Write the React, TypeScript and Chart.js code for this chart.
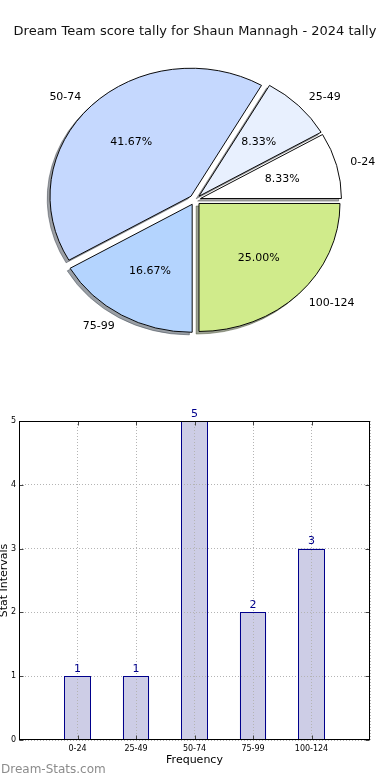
import React, { useEffect, useRef } from 'react';
import { Chart, registerables } from 'chart.js';

Chart.register(...registerables);

const FONT = "'DejaVu Sans', sans-serif";

const titleText = 'Dream Team score tally for Shaun Mannagh - 2024 tally';
const categories = ['0-24', '25-49', '50-74', '75-99', '100-124'];
const counts = [1, 1, 5, 2, 3];
const sliceColors = ['#ffffff', '#e8f0fe', '#c5d8fe', '#b4d4fe', '#d0eb8b'];
const yTicks = [0, 1, 2, 3, 4, 5];
const xAxisTitle = 'Frequency';
const yAxisTitle = 'Stat Intervals';
const watermark = 'Dream-Stats.com';

const PIE_R = 141;
const EXPLODE = 0.04;
const Y_RATIO = 128 / PIE_R;
const SHADOW = 0.02;

function shadowColor(hex: string): string {
  const n = parseInt(hex.slice(1), 16);
  const r = Math.round(((n >> 16) & 255) * 0.3);
  const g = Math.round(((n >> 8) & 255) * 0.3);
  const b = Math.round((n & 255) * 0.3);
  return `rgba(${r},${g},${b},0.5)`;
}

const pieDrawPlugin = {
  id: 'pieDraw',
  beforeDatasetDraw(chart: any, args: any) {
    const meta = chart.getDatasetMeta(args.index);
    const arcs = meta.data as any[];
    if (!arcs.length) return false;
    const ctx = chart.ctx as CanvasRenderingContext2D;
    const cx = arcs[0].x;
    const cy = arcs[0].y;
    const colors = chart.data.datasets[args.index].backgroundColor as string[];
    ctx.save();
    ctx.translate(cx, cy);
    ctx.scale(1, Y_RATIO);
    ctx.translate(-cx, -cy);
    arcs.forEach((a, i) => {
      const mid = (a.startAngle + a.endAngle) / 2;
      const d = EXPLODE * a.outerRadius;
      const sx = a.x + Math.cos(mid) * d - SHADOW * a.outerRadius;
      const sy = a.y + Math.sin(mid) * d + SHADOW * a.outerRadius;
      ctx.beginPath();
      ctx.moveTo(sx, sy);
      ctx.arc(sx, sy, a.outerRadius, a.startAngle, a.endAngle);
      ctx.closePath();
      ctx.fillStyle = shadowColor(colors[i]);
      ctx.strokeStyle = shadowColor(colors[i]);
      ctx.lineWidth = 1;
      ctx.fill();
      ctx.stroke();
    });
    arcs.forEach((a) => {
      const mid = (a.startAngle + a.endAngle) / 2;
      const d = EXPLODE * a.outerRadius;
      ctx.save();
      ctx.translate(Math.cos(mid) * d, Math.sin(mid) * d);
      a.draw(ctx, chart.chartArea);
      ctx.restore();
    });
    ctx.restore();
    return false;
  },
  afterDatasetsDraw(chart: any) {
    const meta = chart.getDatasetMeta(0);
    const arcs = meta.data as any[];
    const ctx = chart.ctx as CanvasRenderingContext2D;
    const labels = chart.data.labels as string[];
    const values = chart.data.datasets[0].data as number[];
    const total = values.reduce((s, v) => s + v, 0);
    ctx.save();
    ctx.fillStyle = '#000';
    ctx.font = `11px ${FONT}`;
    ctx.textBaseline = 'middle';
    arcs.forEach((a, i) => {
      const mid = (a.startAngle + a.endAngle) / 2;
      const ux = Math.cos(mid);
      const uy = Math.sin(mid);
      const R = a.outerRadius;
      const wx = a.x + EXPLODE * R * ux;
      const wy = a.y + EXPLODE * R * uy * Y_RATIO;
      ctx.textAlign = ux > 0 ? 'left' : 'right';
      ctx.fillText(labels[i], wx + 1.1 * R * ux, wy + 1.1 * R * uy * Y_RATIO);
      ctx.textAlign = 'center';
      const pct = ((values[i] / total) * 100).toFixed(2) + '%';
      ctx.fillText(pct, wx + 0.6 * R * ux, wy + 0.6 * R * uy * Y_RATIO);
    });
    ctx.restore();
  },
};

const barExtrasPlugin = {
  id: 'barExtras',
  afterDraw(chart: any) {
    const ctx = chart.ctx as CanvasRenderingContext2D;
    const { left, right, top, bottom } = chart.chartArea;
    const L = Math.round(left) + 0.5;
    const Rr = Math.round(right) - 0.5;
    const T = Math.round(top) + 0.5;
    const B = Math.round(bottom) - 0.5;
    const meta = chart.getDatasetMeta(0);
    const values = chart.data.datasets[0].data as any[];
    ctx.save();
    // crisp bar outlines
    ctx.strokeStyle = '#00008b';
    ctx.lineWidth = 1;
    meta.data.forEach((bar: any) => {
      const p = bar.getProps(['x', 'y', 'base', 'width'], true);
      const bl = Math.round(p.x - p.width / 2) + 0.5;
      const br = Math.round(p.x + p.width / 2) - 0.5;
      const bt = Math.round(p.y) + 0.5;
      const bb = Math.round(p.base) - 0.5;
      ctx.strokeRect(bl, bt, br - bl, bb - bt);
    });
    // value labels
    ctx.fillStyle = '#00008b';
    ctx.font = `11px ${FONT}`;
    ctx.textAlign = 'center';
    ctx.textBaseline = 'alphabetic';
    meta.data.forEach((bar: any, i: number) => {
      ctx.fillText(String(values[i].y), bar.x, bar.y - 4.5);
    });
    // inward ticks
    ctx.strokeStyle = '#444';
    ctx.lineWidth = 1;
    const xs = chart.scales.x;
    const ys = chart.scales.y;
    categories.forEach((_, i) => {
      const px = Math.round(xs.getPixelForValue(i)) + 0.5;
      ctx.beginPath();
      ctx.moveTo(px, T);
      ctx.lineTo(px, T + 4);
      ctx.moveTo(px, B);
      ctx.lineTo(px, B - 4);
      ctx.stroke();
    });
    yTicks.forEach((v) => {
      const py = Math.round(ys.getPixelForValue(v)) + 0.5;
      ctx.beginPath();
      ctx.moveTo(L, py);
      ctx.lineTo(L + 4, py);
      ctx.moveTo(Rr, py);
      ctx.lineTo(Rr - 4, py);
      ctx.stroke();
    });
    // frame
    ctx.strokeStyle = '#000';
    ctx.strokeRect(L, T, Rr - L, B - T);
    // watermark
    ctx.fillStyle = '#8c8c8c';
    ctx.font = `12px ${FONT}`;
    ctx.textAlign = 'left';
    ctx.textBaseline = 'middle';
    ctx.fillText(watermark, 1, 372);
    ctx.restore();
  },
};

export default function App() {
  const pieRef = useRef<HTMLCanvasElement>(null);
  const barRef = useRef<HTMLCanvasElement>(null);

  useEffect(() => {
    const pieLabels = [...categories].reverse();
    const pieValues = [...counts].reverse();
    const pieColors = [...sliceColors].reverse();

    const pie = new Chart(pieRef.current!, {
      type: 'pie',
      data: {
        labels: pieLabels,
        datasets: [
          {
            data: pieValues,
            backgroundColor: pieColors,
            borderColor: '#000',
            borderWidth: 1,
            radius: PIE_R,
            rotation: 90,
          } as any,
        ],
      },
      options: {
        animation: false,
        responsive: false,
        events: [],
        radius: PIE_R,
        rotation: 90,
        layout: { padding: { top: 0, bottom: 37.6, left: 0, right: 0 } },
        plugins: {
          legend: { display: false },
          tooltip: { enabled: false },
          title: {
            display: true,
            text: titleText,
            color: '#111',
            font: { family: FONT, size: 13, weight: 'normal' },
            padding: { top: 23.7, bottom: 0 },
          },
        },
      } as any,
      plugins: [pieDrawPlugin],
    });

    const bar = new Chart(barRef.current!, {
      type: 'bar',
      data: {
        datasets: [
          {
            data: counts.map((v, i) => ({ x: i, y: v })),
            backgroundColor: '#cdcde6',
            borderWidth: 0,
            barPercentage: 0.45,
            categoryPercentage: 1,
          },
        ],
      },
      options: {
        animation: false,
        responsive: false,
        events: [],
        layout: { padding: { top: 23, right: 20, left: 0, bottom: 0 } },
        plugins: { legend: { display: false }, tooltip: { enabled: false } },
        scales: {
          x: {
            type: 'linear',
            min: -1,
            max: 5,
            offset: false,
            afterFit: (s: any) => {
              s.height = 40;
            },
            ticks: {
              stepSize: 1,
              autoSkip: false,
              maxRotation: 0,
              padding: 4,
              color: '#000',
              font: { family: FONT, size: 8 },
              callback: (v: any) => categories[v] ?? '',
            },
            grid: { color: '#b4b4b4', drawTicks: false, offset: false, z: 1 },
            border: { display: false, dash: [1, 2] },
            title: {
              display: true,
              text: xAxisTitle,
              color: '#000',
              font: { family: FONT, size: 11 },
              padding: { top: 0, bottom: 13.4 },
            },
          },
          y: {
            min: 0,
            max: 5,
            afterFit: (s: any) => {
              s.width = 19;
            },
            ticks: {
              stepSize: 1,
              padding: 3,
              color: '#000',
              font: { family: FONT, size: 8 },
              callback: (v: any) => (yTicks.includes(v) ? String(v) : ''),
            },
            grid: { color: '#b4b4b4', drawTicks: false, z: 1 },
            border: { display: false, dash: [1, 2] },
            title: {
              display: true,
              text: yAxisTitle,
              color: '#000',
              font: { family: FONT, size: 11, lineHeight: 0.8 },
              padding: { top: 0, bottom: 0 },
            },
          },
        },
      } as any,
      plugins: [barExtrasPlugin],
    });

    return () => {
      pie.destroy();
      bar.destroy();
    };
  }, []);

  return (
    <div style={{ position: 'absolute', left: 0, top: 0, width: 390, height: 780, background: '#fff' }}>
      <canvas ref={pieRef} width={390} height={398} style={{ position: 'absolute', left: 0, top: 0 }} />
      <canvas ref={barRef} width={390} height={382} style={{ position: 'absolute', left: 0, top: 398 }} />
    </div>
  );
}
